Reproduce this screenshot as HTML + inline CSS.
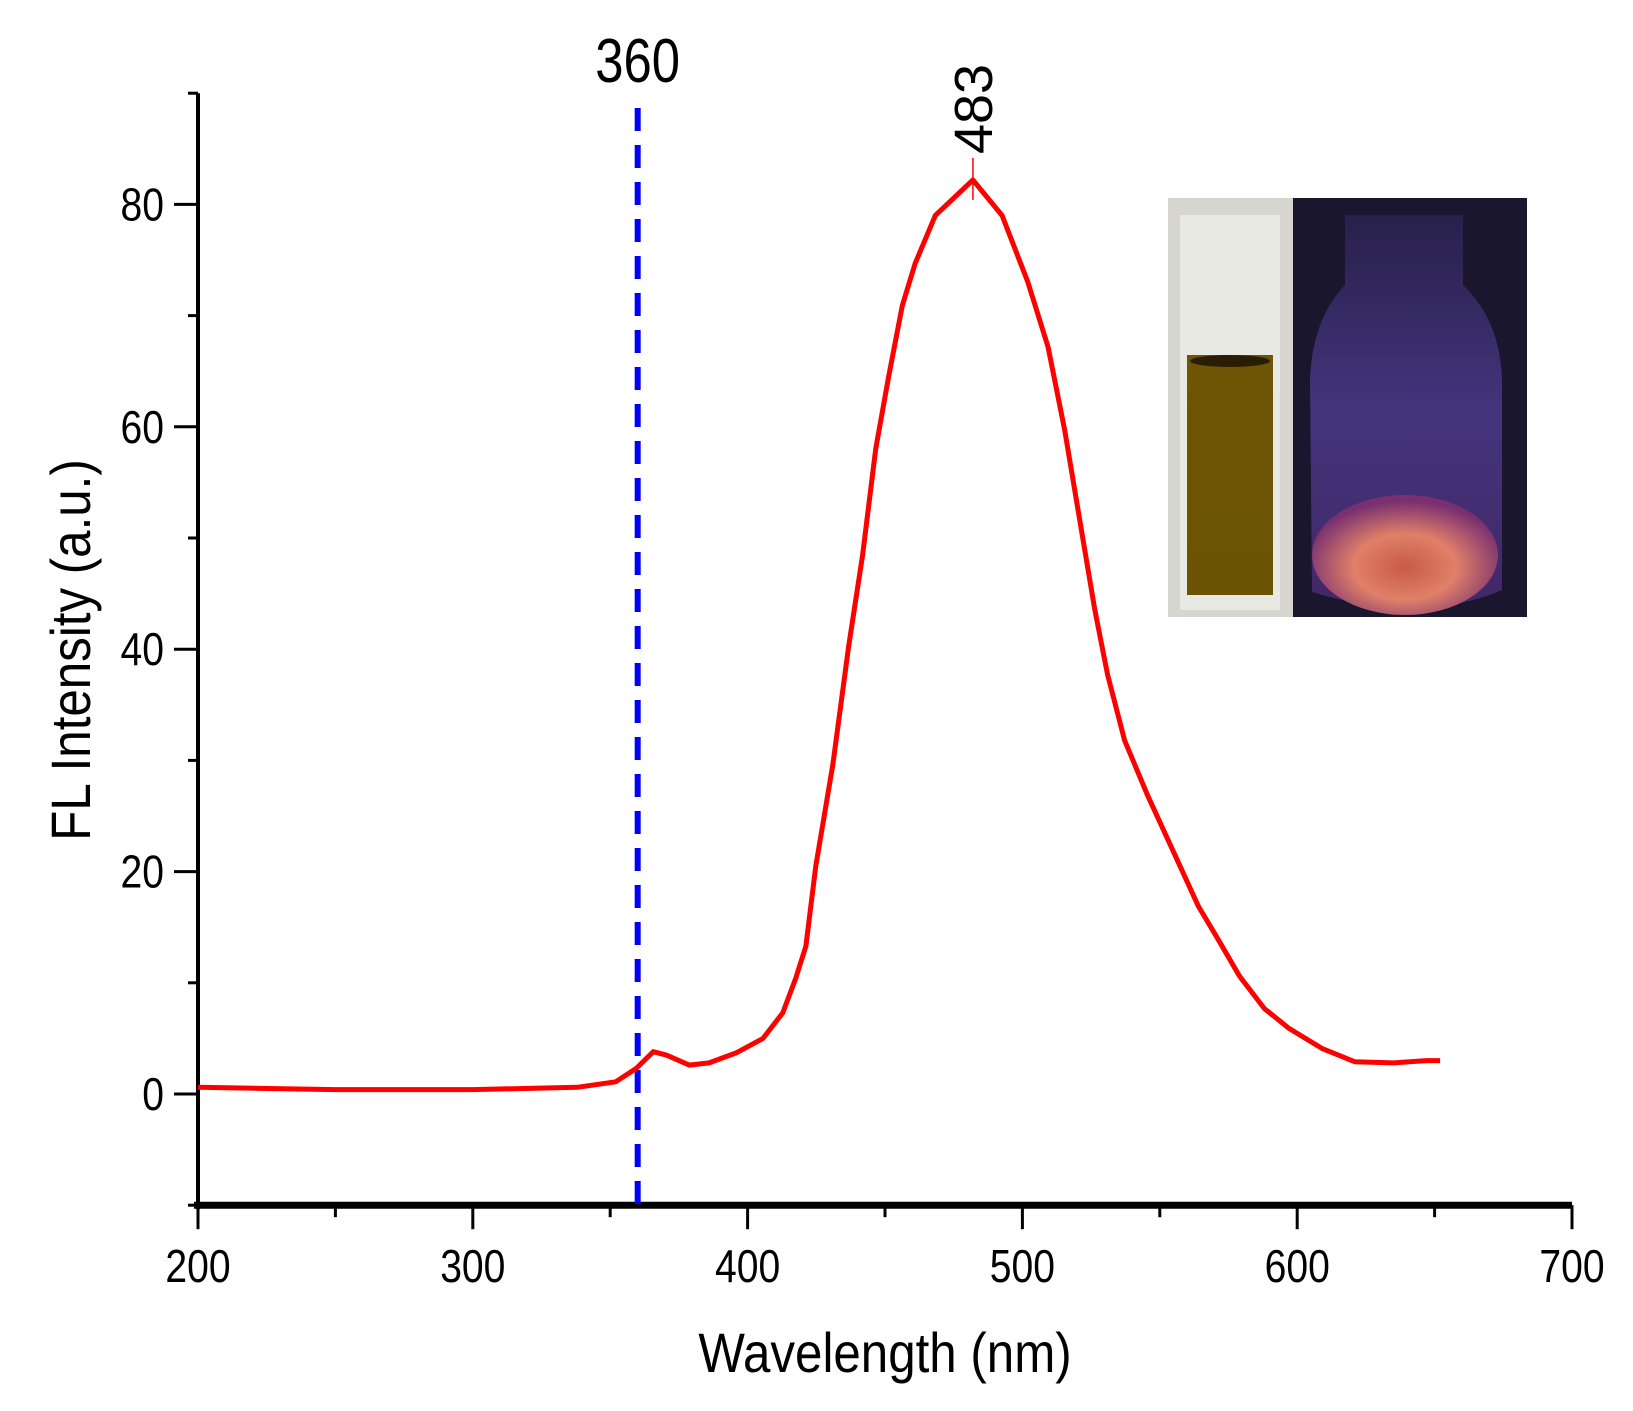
<!DOCTYPE html>
<html><head><meta charset="utf-8"><style>
html,body{margin:0;padding:0;background:#fff;}
svg{display:block;font-family:"Liberation Sans",Arial,sans-serif;}
</style></head><body>
<svg id="chart" width="1633" height="1411" viewBox="0 0 1633 1411">
<defs>
<linearGradient id="cuv" x1="0" y1="0" x2="0" y2="1"><stop offset="0" stop-color="#6e5505"/><stop offset="1" stop-color="#6a5304"/></linearGradient>
<radialGradient id="glow" cx="0.5" cy="0.6" r="0.55"><stop offset="0" stop-color="#c85a48"/><stop offset="0.5" stop-color="#e08068"/><stop offset="1" stop-color="#7a3070"/></radialGradient>
<linearGradient id="bottle" x1="0" y1="0" x2="0" y2="1"><stop offset="0" stop-color="#2a2250"/><stop offset="0.5" stop-color="#4a3a8a"/><stop offset="1" stop-color="#4a2a70"/></linearGradient>
</defs>
<g id="axes"></g>
<g id="inset">
<rect x="1168" y="198" width="125" height="419" fill="#d6d6cf"/>
<rect x="1180" y="215" width="100" height="395" fill="#e9e9e4"/>
<rect x="1187" y="355" width="86" height="240" fill="url(#cuv)"/>
<ellipse cx="1230" cy="361" rx="40" ry="6" fill="#2a1d05"/>
<rect x="1293" y="198" width="234" height="419" fill="#19162e"/>
<path d="M1345,215 L1463,215 L1463,285 Q1500,320 1502,380 L1502,590 Q1420,625 1312,592 L1310,380 Q1312,320 1345,285 Z" fill="url(#bottle)" opacity="0.85"/>
<ellipse cx="1405" cy="555" rx="93" ry="60" fill="url(#glow)"/>
</g>
<g id="plot"></g>
</svg>
<script>
const xTicks=[200,300,400,500,600,700];
const yTicks=[0,20,40,60,80];
const excitationNm=360;
const peakNm=482;
const wavelengths=[200,250,300,338,352,359.5,365.7,370.4,378.8,386,395.8,405.6,412.8,417.5,421.2,424.8,431,436.8,441.8,446.6,451.3,456.3,461,468.3,482,492.6,502,509.3,515.4,521.6,526.3,531,537.2,545.5,555.3,564,571,579,588,597,609,621,635,647,652];
const intensity=[0.6,0.4,0.4,0.6,1.1,2.3,3.8,3.5,2.6,2.8,3.7,5.0,7.3,10.4,13.3,20.5,29.6,40.3,48.4,58,64.5,70.9,74.7,79,82.2,79,73,67.2,59.7,50.5,43.6,37.7,31.8,26.9,21.6,16.9,14,10.6,7.7,5.9,4.1,2.9,2.8,3.0,3.0];

const NS='http://www.w3.org/2000/svg';
const X0=198,X1=1572,Y0=1094,YPU=11.12;
const xs=v=>X0+(v-200)*(X1-X0)/500;
const ys=v=>Y0-v*YPU;
const yTop=ys(90),yBot=ys(-10);
function mk(tag,attrs,parent,text){const e=document.createElementNS(NS,tag);for(const k in attrs)e.setAttribute(k,attrs[k]);if(text!==undefined)e.textContent=text;parent.appendChild(e);return e;}
const ax=document.getElementById('axes'),pl=document.getElementById('plot');

let e=mk('line',{x1:X0,y1:yTop,x2:X0,y2:yBot+4,stroke:'#000','stroke-width':4},ax);


e=mk('line',{x1:X0-4,y1:yBot,x2:X1,y2:yBot,stroke:'#000','stroke-width':7},ax);


for(let v=200;v<=700;v+=50){
  const major=v%100===0;
  e=mk('line',{x1:xs(v),y1:yBot,x2:xs(v),y2:yBot+(major?24:12),stroke:'#000','stroke-width':3},ax);
  
  
}
xTicks.forEach(v=>{
  e=mk('text',{x:0,y:0,'font-size':46,'text-anchor':'middle',transform:`translate(${xs(v)},1282) scale(0.85,1)`},ax,String(v));
  
  
});
for(let v=-10;v<=90;v+=10){
  const major=v%20===0&&v>=0;
  e=mk('line',{x1:X0,y1:ys(v),x2:X0-(major?24:10),y2:ys(v),stroke:'#000','stroke-width':3},ax);
  
  
}
yTicks.forEach(v=>{
  e=mk('text',{x:0,y:0,'font-size':46,'text-anchor':'end',transform:`translate(164,${ys(v)+16}) scale(0.85,1)`},ax,String(v));
  
  
});
e=mk('text',{x:0,y:0,'font-size':56,'text-anchor':'middle',transform:'translate(885,1372) scale(0.88,1)'},ax,'Wavelength (nm)');


e=mk('text',{x:0,y:0,'font-size':56,'text-anchor':'middle',transform:'translate(90,650) rotate(-90) scale(0.88,1)'},ax,'FL Intensity (a.u.)');



e=mk('line',{x1:xs(excitationNm),y1:108,x2:xs(excitationNm),y2:yBot,stroke:'#0000ff','stroke-width':6,'stroke-dasharray':'23 14'},pl);


e=mk('text',{x:0,y:0,'font-size':62,'text-anchor':'middle',transform:`translate(${xs(excitationNm)},82) scale(0.82,1)`},pl,String(excitationNm));



const d=wavelengths.map((w,i)=>(i?'L':'M')+xs(w).toFixed(1)+','+ys(intensity[i]).toFixed(1)).join(' ');
e=mk('path',{d:d,fill:'none',stroke:'#ff0000','stroke-width':5,'stroke-linejoin':'round'},pl);


const pk=intensity[wavelengths.indexOf(peakNm)];
e=mk('line',{x1:xs(peakNm),y1:ys(pk)+20,x2:xs(peakNm),y2:158,stroke:'#ff0000','stroke-width':1.5},pl);


e=mk('text',{x:0,y:0,'font-size':54,'text-anchor':'middle',transform:`translate(${xs(peakNm)+19},109) rotate(-90)`},pl,'483');


</script>
</body></html>
